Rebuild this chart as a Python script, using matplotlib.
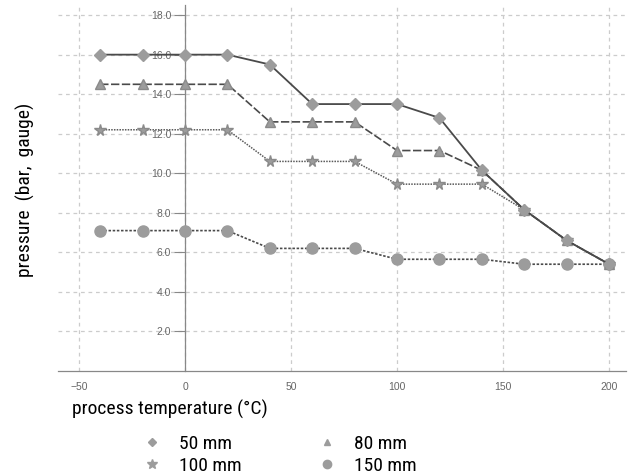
import matplotlib
matplotlib.use('Agg')

import numpy as np
import matplotlib.pyplot as plt
from matplotlib.lines import Line2D

temps = [-40, -20, 0, 20, 40, 60, 80, 100, 120, 140, 160, 180, 200]
p_50 = [16.0, 16.0, 16.0, 16.0, 15.5, 13.5, 13.5, 13.5, 12.8, 10.15, 8.15, 6.6, 5.4]
p_80 = [14.5, 14.5, 14.5, 14.5, 12.6, 12.6, 12.6, 11.15, 11.15, 10.15, 8.15, 6.6, 5.4]
p_100 = [12.2, 12.2, 12.2, 12.2, 10.6, 10.6, 10.6, 9.45, 9.45, 9.45, 8.15, 6.6, 5.4]
p_150 = [7.1, 7.1, 7.1, 7.1, 6.2, 6.2, 6.2, 5.65, 5.65, 5.65, 5.4, 5.4, 5.4]

labels = ['50 mm', '80 mm', '100 mm', '150 mm']
yticks = [2, 4, 6, 8, 10, 12, 14, 16, 18]
xticks = [-50, 0, 50, 100, 150, 200]

NARROW = ['Roboto Condensed', 'DejaVu Sans']
LINE = '#4a4a4a'
MK = '#9c9c9c'


def main():
    plt.rcParams['font.family'] = ['Liberation Sans', 'DejaVu Sans']
    fig = plt.figure(figsize=(6.28, 4.75), dpi=100)
    ax = fig.add_axes([0.092, 0.219, 0.905, 0.77])

    ax.plot(temps, p_150, color=LINE, lw=1.2, ls=(0, (1.5, 1)), marker='o', ms=8,
            mfc=MK, mec=MK, zorder=3)
    ax.plot(temps, p_100, color='#5a5a5a', lw=1.1, ls=(0, (1, 0.8)), marker='*', ms=8.5,
            mfc=MK, mec='#8a8a8a', zorder=4)
    ax.plot(temps, p_80, color=LINE, lw=1.2, ls=(0, (5, 1.5)), marker='^', ms=6.5,
            mfc=MK, mec='#8a8a8a', zorder=5)
    ax.plot(temps, p_50, color=LINE, lw=1.3, ls='-', marker='D', ms=6,
            mfc=MK, mec=MK, zorder=6)

    ax.set_xlim(-60, 208)
    ax.set_ylim(0, 18.5)
    ax.set_xticks(xticks)
    ax.set_yticks(yticks)
    ax.set_yticklabels(['%.1f' % v for v in yticks])

    ax.spines['left'].set_position(('data', 0))
    ax.spines['bottom'].set_position(('data', 0))
    ax.spines['right'].set_visible(False)
    ax.spines['top'].set_visible(False)
    for s in ('left', 'bottom'):
        ax.spines[s].set_color('#888888')
        ax.spines[s].set_linewidth(0.9)

    ax.tick_params(axis='y', length=8, color='#888888', labelsize=7.5,
                   labelcolor='#666666', pad=2)
    ax.tick_params(axis='x', length=0, labelsize=7.5, labelcolor='#666666', pad=8)

    ax.grid(True, color='#cccccc', ls=(0, (3, 3)), lw=0.9)
    ax.set_axisbelow(True)

    fig.text(0.04, 0.6, 'pressure  (bar,  gauge)', rotation=90, ha='center',
             va='center', fontsize=14, family=NARROW)
    fig.text(0.27, 0.138, 'process temperature (\u00b0C)', ha='center',
             va='center', fontsize=14, family=NARROW)

    handles = [
        Line2D([], [], ls='none', marker='D', ms=4.5, mfc=MK, mec=MK),
        Line2D([], [], ls='none', marker='*', ms=7, mfc=MK, mec=MK),
        Line2D([], [], ls='none', marker='^', ms=5, mfc=MK, mec=MK),
        Line2D([], [], ls='none', marker='o', ms=6, mfc=MK, mec=MK),
    ]
    fig.legend(handles, ['50 mm', '100 mm', '80 mm', '150 mm'], ncol=2,
               loc='center', bbox_to_anchor=(0.445, 0.042), frameon=False,
               prop={'family': NARROW, 'size': 14}, columnspacing=3.9,
               handletextpad=0.9, labelspacing=0.22, handlelength=1.0)

    fig.savefig('out.png', dpi=100)
    plt.close(fig)


if __name__ == '__main__':
    main()
